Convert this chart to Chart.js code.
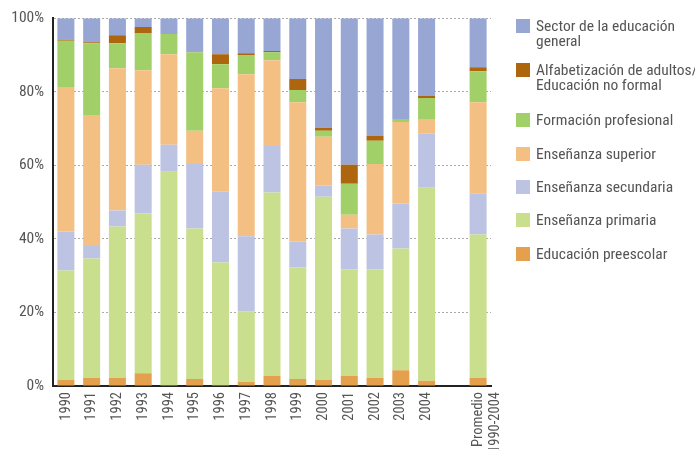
<!DOCTYPE html>
<html>
<head>
<meta charset="utf-8">
<script src="https://cdn.jsdelivr.net/npm/chart.js@4"></script>
<style>
  html, body { margin: 0; padding: 0; background: #fff; }
  #wrap { position: relative; width: 695px; height: 449px; overflow: hidden; }
  #c { position: absolute; left: 0; top: 0; }
  #legend { position: absolute; left: 0; top: 0; margin: 0; padding: 0; list-style: none;
    font-family: 'Liberation Sans Narrow', 'Roboto Condensed', 'Noto Sans Condensed', 'Open Sans Condensed', 'DejaVu Sans Condensed', sans-serif;
    font-size: 15.5px; color: #555; line-height: 15px; }
  #legend li { position: absolute; left: 516px; white-space: nowrap; }
  #legend li span.sw { position: absolute; left: 0; top: 0; width: 14px; height: 14px; }
  #legend li span.tx { position: absolute; left: 20px; top: 0px; }
</style>
</head>
<body>
<div id="wrap">
  <canvas id="c" width="695" height="449"></canvas>
  <ul id="legend"></ul>
</div>
<script>
const categories = ['1990','1991','1992','1993','1994','1995','1996','1997','1998','1999','2000','2001','2002','2003','2004','',['Promedio','1990-2004']];

const preescolar  = [1.6, 2.2, 2.2, 3.5, 0.3, 1.9, 0.3, 1.1, 2.7, 1.9, 1.6, 2.7, 2.2, 4.3, 1.4, null, 2.2];
const primaria    = [29.8,32.5,41.2,43.4,58.0,40.9,33.3,19.2,49.9,30.3,49.9,29.0,29.5,33.1,52.5, null, 39.0];
const secundaria  = [10.6, 3.4, 4.3,13.3, 7.3,17.6,19.2,20.4,12.7, 7.1, 3.0,11.1, 9.5,12.2,14.7, null, 11.1];
const superior    = [39.3,35.6,38.7,25.7,24.6, 9.0,28.2,44.1,23.3,37.9,13.3, 3.8,19.2,22.2, 3.8, null, 24.9];
const formacion   = [12.6,19.5, 6.8,10.0, 5.5,21.4, 6.5, 5.2, 2.2, 3.3, 1.6, 8.4, 6.3, 0.8, 5.9, null, 8.4];
const alfabet     = [0.3, 0.3, 2.2, 1.7, 0.0, 0.0, 2.7, 0.5, 0.3, 3.0, 0.8, 5.2, 1.3, 0.0, 0.6, null, 1.1];
const general     = [5.8, 6.5, 4.6, 2.4, 4.3, 9.2, 9.8, 9.5, 8.9,16.5,29.8,39.8,32.0,27.4,21.1, null, 13.3];

const yTicks = [0, 20, 40, 60, 80, 100];

const seriesNames = ['Educación preescolar','Enseñanza primaria','Enseñanza secundaria','Enseñanza superior','Formación profesional',['Alfabetización de adultos/','Educación no formal'],['Sector de la educación','general']];
const seriesData = [preescolar, primaria, secundaria, superior, formacion, alfabet, general];
const seriesColors = ['#E5A04D','#C9DF8D','#BDC4E3','#F4BF83','#A1D069','#AD650E','#98A6D4'];

const FONT = "'Liberation Sans Narrow', 'Roboto Condensed', 'Noto Sans Condensed', 'Open Sans Condensed', 'DejaVu Sans Condensed', sans-serif";

const datasets = seriesData.map((d, i) => ({
  label: Array.isArray(seriesNames[i]) ? seriesNames[i].join(' ') : seriesNames[i],
  data: d,
  backgroundColor: seriesColors[i],
  borderWidth: 0,
  barPercentage: 0.66,
  categoryPercentage: 1.0
}));

// HTML legend (reverse order, top to bottom)
const legendTops = [19, 63, 113, 147, 180, 213, 247];
const leg = document.getElementById('legend');
for (let k = 0, i = seriesNames.length - 1; i >= 0; i--, k++) {
  const li = document.createElement('li');
  li.style.top = legendTops[k] + 'px';
  const sw = document.createElement('span');
  sw.className = 'sw';
  sw.style.background = seriesColors[i];
  li.appendChild(sw);
  const n = seriesNames[i];
  const txt = document.createElement('span');
  txt.className = 'tx';
  txt.innerHTML = Array.isArray(n) ? n.join('<br>') : n;
  li.appendChild(txt);
  leg.appendChild(li);
}

new Chart(document.getElementById('c'), {
  type: 'bar',
  data: { labels: categories, datasets },
  options: {
    responsive: false,
    animation: false,
    layout: { padding: { top: 10, right: 204, left: 0, bottom: 0 } },
    plugins: { legend: { display: false }, tooltip: { enabled: false } },
    scales: {
      x: {
        stacked: true,
        grid: { display: false, drawTicks: false },
        border: { display: true, color: '#222', width: 2 },
        afterFit: (scale) => { scale.height = 63; },
        ticks: {
          color: '#555', font: { family: FONT, size: 14.5 },
          minRotation: 90, maxRotation: 90, autoSkip: false, padding: 6
        }
      },
      y: {
        stacked: true,
        min: 0, max: 100,
        afterBuildTicks: (axis) => { axis.ticks = yTicks.map(v => ({ value: v })); },
        afterFit: (scale) => { scale.width = 53; },
        grid: { color: '#aaa', lineWidth: 1, drawTicks: false },
        border: { display: true, color: '#222', width: 2, dash: [2, 2] },
        ticks: {
          color: '#555', font: { family: FONT, size: 15.5 }, padding: 9,
          callback: (v) => v + '%'
        }
      }
    }
  }
});
</script>
</body>
</html>
